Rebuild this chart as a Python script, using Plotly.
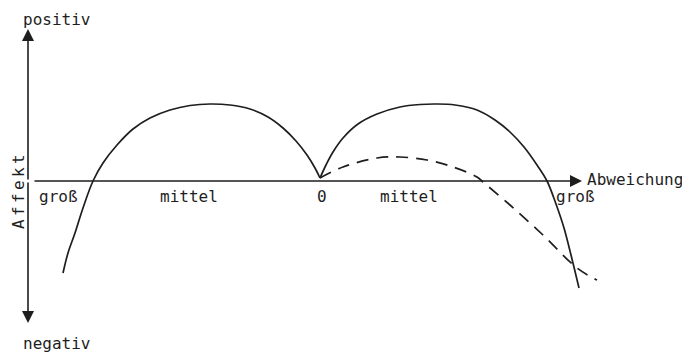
import plotly.graph_objects as go

# Koordinaten: x = Abweichung (0 = Nullpunkt), y = Affekt (0 = Achse, + positiv)
left_x = [-257, -252, -245, -237, -227, -217, -203, -187, -170, -150, -130, -110, -90, -70, -52, -37, -24, -13, -5, 0]
left_y = [-92, -72, -52, -27, 0, 18, 36, 52, 63, 71, 75.5, 77, 76, 72, 64, 53, 40, 26, 13, 3]

right_x = [0, 6, 13, 23, 38, 57, 80, 100, 117, 135, 157, 175, 190, 204, 217, 227, 236, 244, 251, 259]
right_y = [3, 16, 29, 43, 57, 67, 74, 76.5, 77, 76, 71, 61, 49, 34, 16, 0, -23, -47, -74, -107]

dash_x = [0, 23, 57, 80, 107, 133, 157, 163, 190, 223, 257, 277]
dash_y = [3, 14, 23, 24, 21, 14, 4, -1, -24, -54, -87, -99]

labels = ["groß", "mittel", "0", "mittel", "groß"]
label_x = [-262, -131, 2, 89, 255]

INK = "#1e1e1e"
FONT = dict(family="DejaVu Sans Mono", size=16, color=INK)

fig = go.Figure()
fig.add_trace(go.Scatter(x=left_x, y=left_y, mode="lines",
                         line=dict(color=INK, width=1.7, shape="spline")))
fig.add_trace(go.Scatter(x=right_x, y=right_y, mode="lines",
                         line=dict(color=INK, width=1.7, shape="spline")))
fig.add_trace(go.Scatter(x=dash_x, y=dash_y, mode="lines",
                         line=dict(color=INK, width=1.7, shape="spline", dash="12px,8px")))

# Achsen als Pfeile
arrow = dict(showarrow=True, arrowhead=2, arrowsize=1.5, arrowwidth=1.6, arrowcolor=INK,
             axref="x", ayref="y", text="", xref="x", yref="y")
fig.add_annotation(x=-292, y=152, ax=-292, ay=0, **arrow)
fig.add_annotation(x=-292, y=-142, ax=-292, ay=0, **arrow)
fig.add_annotation(x=262, y=0, ax=-287, ay=0, **arrow)

for t, xx in zip(labels, label_x):
    fig.add_annotation(x=xx, y=-15, text=t, showarrow=False, font=FONT)

fig.add_annotation(x=265, y=2, text="Abweichung", showarrow=False, xanchor="left", font=FONT)
fig.add_annotation(x=-264, y=162, text="positiv", showarrow=False, font=FONT)
fig.add_annotation(x=-264, y=-162, text="negativ", showarrow=False, font=FONT)

# "Affekt" gesperrt, von unten nach oben
for i, ch in enumerate("Affekt"):
    fig.add_annotation(x=-302, y=-43 + 13 * i, text=ch, showarrow=False, textangle=-90,
                       borderpad=0, font=FONT)

# die Seite hat 8px Rand: Bereich so wählen, dass die Bildpunkte passen
fig.update_xaxes(range=[-312, 370], visible=False)
fig.update_yaxes(range=[-171, 173], visible=False)
fig.update_layout(width=682, height=344, margin=dict(l=0, r=0, t=0, b=0),
                  plot_bgcolor="white", paper_bgcolor="white", showlegend=False)

fig.write_html("out.html")
